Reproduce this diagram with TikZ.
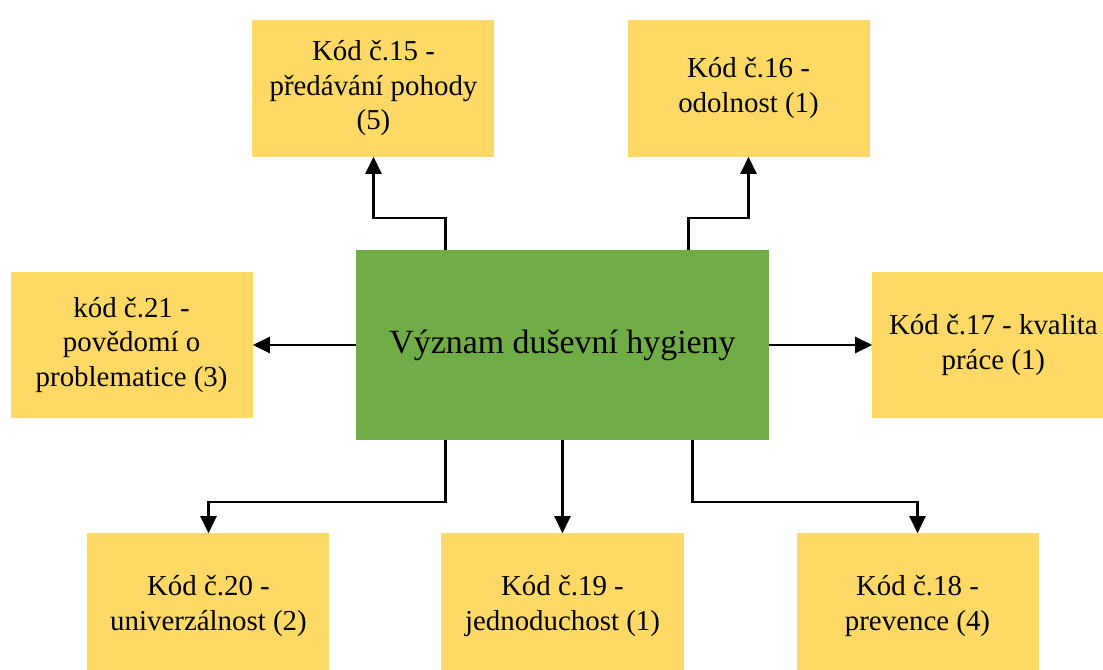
\documentclass[tikz,border=0pt]{standalone}
\usepackage{fontspec}
\setmainfont{Liberation Serif}
\newfontfamily\codefont{Liberation Serif}
\usepackage{xcolor}
\usetikzlibrary{arrows.meta, positioning}

\definecolor{codegold}{HTML}{FFD966}
\definecolor{hubgreen}{HTML}{70AD47}

\begin{document}
\begin{tikzpicture}[
        code/.style={rectangle, fill=codegold, minimum width=242bp, minimum height=145bp, inner sep=0pt, align=center, font=\codefont\fontsize{29}{35}\selectfont},
        hub/.style={rectangle, fill=hubgreen, minimum width=413bp, minimum height=190bp, inner sep=0pt, font=\codefont\fontsize{34}{40}\selectfont},
        arrow/.style={-{Triangle[length=17bp,width=16bp]}, line width=2.5bp, draw=black}
    ]
        \useasboundingbox (-562.5bp,-325bp) rectangle (540.5bp,345bp);
        \clip (-562.5bp,-325bp) rectangle (540.5bp,345bp);

        % Hub
        \node[hub] (hub) at (0,0) {Význam duševní hygieny};

        % Top row
        \node[code, minimum height=137bp, above=93bp of hub, xshift=-189bp] (c15) {Kód č.15 -\\ předávání pohody\\ (5)};
        \node[code, minimum height=137bp, above=93bp of hub, xshift=186bp] (c16) {Kód č.16 -\\ odolnost (1)};

        % Sides
        \node[code, left=103bp of hub] (c21) {kód č.21 -\\ povědomí o\\ problematice (3)};
        \node[code, right=103bp of hub] (c17) {Kód č.17 - kvalita\\ práce (1)};

        % Bottom row
        \node[code, below=93bp of hub, xshift=-354bp] (c20) {Kód č.20 -\\ univerzálnost (2)};
        \node[code, below=93bp of hub] (c19) {Kód č.19 -\\ jednoduchost (1)};
        \node[code, below=93bp of hub, xshift=355bp] (c18) {Kód č.18 -\\ prevence (4)};

        % Connectors
        \draw[arrow] ([xshift=-117bp]hub.north) |- ([yshift=-61bp]c15.south) -- (c15.south);
        \draw[arrow] ([xshift=126bp]hub.north) |- ([yshift=-61bp]c16.south) -- (c16.south);
        \draw[arrow] (hub.west) -- (c21.east);
        \draw[arrow] (hub.east) -- (c17.west);
        \draw[arrow] ([xshift=-117bp]hub.south) |- ([yshift=31bp]c20.north) -- (c20.north);
        \draw[arrow] (hub.south) -- (c19.north);
        \draw[arrow] ([xshift=130bp]hub.south) |- ([yshift=31bp]c18.north) -- (c18.north);

    \end{tikzpicture}
\end{document}
